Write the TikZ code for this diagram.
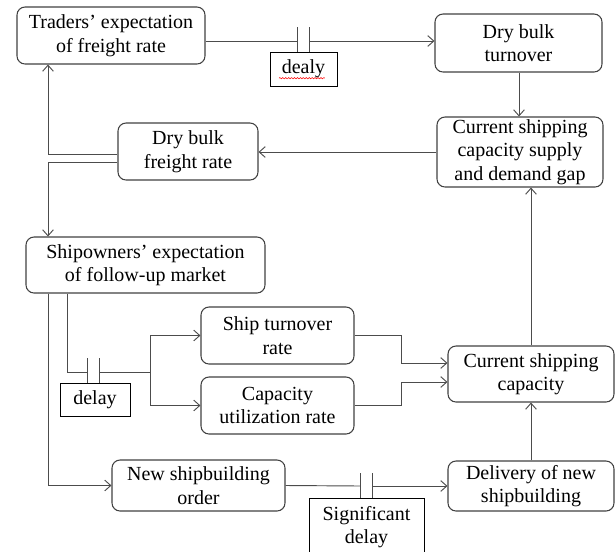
\documentclass[tikz,border=0pt]{standalone}
\usepackage{fontspec}
\setmainfont{Liberation Serif}
\usetikzlibrary{arrows.meta,decorations.pathmorphing}

\tikzset{
    block/.style={draw=black!75, line width=0.8pt, rounded corners=6pt, align=center, inner sep=0pt},
    lagbox/.style={draw, line width=0.6pt, align=center, inner sep=0pt},
    link/.style={draw=black!70, line width=0.7pt},
}

\begin{document}
\begin{tikzpicture}[x=0.75pt, y=-0.75pt, font=\fontsize{15}{17.6}\selectfont, >={Straight Barb[length=4.5pt,width=8pt]}]
    \useasboundingbox (0,0) rectangle (615,551);
    \clip (0,0) rectangle (615,551);

    \node[block, minimum width=141pt, minimum height=42.75pt] (traders) at (111, 35.5) {Traders’ expectation\\of freight rate} ;
    \node[block, minimum width=125.25pt, minimum height=43.5pt] (turnover) at (518.5, 43) {Dry bulk\\turnover} ;
    \node[block, minimum width=124.5pt, minimum height=52.5pt] (gap) at (520, 152) {Current shipping\\capacity supply\\and demand gap} ;
    \node[block, minimum width=105pt, minimum height=42.75pt] (freight) at (188, 151.5) {Dry bulk\\freight rate} ;
    \node[block, minimum width=179.25pt, minimum height=42pt] (shipowners) at (145.5, 265) {Shipowners’ expectation\\of follow-up market} ;
    \node[block, minimum width=114.75pt, minimum height=42.75pt] (turnrate) at (277.5, 335.5) {Ship turnover\\rate} ;
    \node[block, minimum width=114.75pt, minimum height=42.75pt] (util) at (277.5, 405.5) {Capacity\\utilization rate} ;
    \node[block, minimum width=124.5pt, minimum height=42pt] (capacity) at (531, 374) {Current shipping\\capacity} ;
    \node[block, minimum width=129.75pt, minimum height=38.25pt] (order) at (198.5, 485.5) {New shipbuilding\\order} ;
    \node[block, minimum width=124.5pt, minimum height=37.5pt] (delivery) at (531, 486) {Delivery of new\\shipbuilding} ;

    \node[lagbox, minimum width=50.25pt, minimum height=25.5pt] (dealy) at (303.5, 69) {dealy} ;
    \node[lagbox, minimum width=52.5pt, minimum height=24.75pt] (lag) at (95, 399.5) {delay} ;
    \node[lagbox, minimum width=86.25pt, minimum height=43.5pt] (siglag) at (366.5, 527) {Significant\\delay} ;
    \draw[red, line width=0.4pt, decorate, decoration={snake, amplitude=0.5pt, segment length=2.2pt}]
        ([xshift=-18.4pt, yshift=-6.9pt]dealy.center) -- ([xshift=16.1pt, yshift=-6.9pt]dealy.center);

    \coordinate (b1) at (297, 41) ;
    \coordinate (b2) at (309, 41) ;
    \coordinate (b3) at (87, 372) ;
    \coordinate (b4) at (99, 372) ;
    \coordinate (fork) at (150, 372) ;
    \coordinate (b5) at (360, 486) ;
    \coordinate (b6) at (372, 486) ;
    \coordinate (lx) at (48, 0) ;
    \coordinate (mx) at (67, 0) ;

    \draw[link] (traders.east |- b1) -- (b1);
    \draw[link, ->] (b2) -- (turnover.west |- b2);
    \draw[link] (b1) ++(0, -14) -- (b1 |- dealy.north);
    \draw[link] (b2) ++(0, -14) -- (b2 |- dealy.north);

    \draw[link, ->] (turnover.south -| 519, 0) -- (gap.north -| 519, 0);
    \draw[link, ->] (gap.west) -- (gap.west -| freight.east);
    \draw[link, ->] ([yshift=-1.9pt]freight.west) -| (lx |- traders.south);
    \draw[link, ->] ([yshift=-7.9pt]freight.west) -| (lx |- shipowners.north);
    \draw[link, ->] (lx |- shipowners.south) |- (order.west);

    \draw[link] (mx |- shipowners.south) |- (b3);
    \draw[link] (b3) ++(0, -14) -- (b3 |- lag.north);
    \draw[link] (b4) ++(0, -14) -- (b4 |- lag.north);
    \draw[link] (b4) -- (fork);
    \draw[link, ->] (fork) |- (turnrate.west);
    \draw[link, ->] (fork) |- (util.west);
    \draw[link, ->] (turnrate.east) -- ++(47, 0) |- ([yshift=8.25pt]capacity.west);
    \draw[link, ->] (util.east) -- ++(47, 0) |- ([yshift=-6pt]capacity.west);

    \draw[link] (order.east) -- (b5);
    \draw[link, ->] (b6) -- (delivery.west);
    \draw[link] (b5) ++(0, -13) -- (b5 |- siglag.north);
    \draw[link] (b6) ++(0, -13) -- (b6 |- siglag.north);

    \draw[link, ->] (delivery.north) -- (capacity.south);
    \draw[link, ->] (capacity.north) -- (capacity.north |- gap.south);
\end{tikzpicture}
\end{document}
